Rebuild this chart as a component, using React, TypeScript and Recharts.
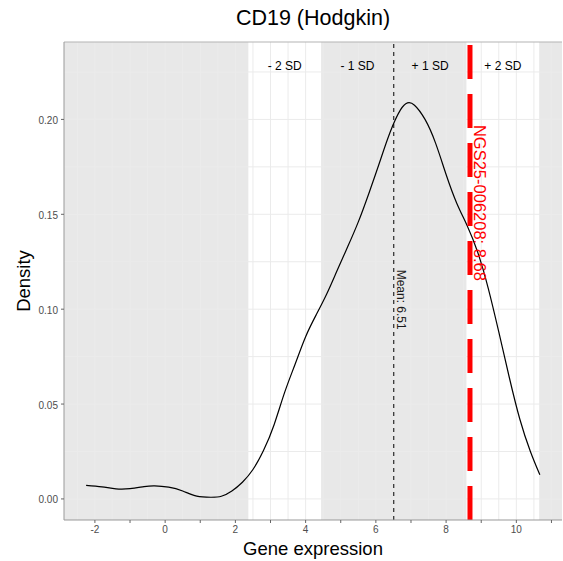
import { ComposedChart, Line, XAxis, YAxis, ReferenceLine, ReferenceArea, ReferenceDot, Label } from 'recharts'

// density estimate
const xValues = [-2.25, -1.8, -1.4, -1.0, -0.6, -0.3, 0.1, 0.5, 0.9, 1.3, 1.6, 1.9, 2.2, 2.5, 2.8, 3.1, 3.4, 3.7, 4.0, 4.3, 4.6, 4.9, 5.2, 5.5, 5.8, 6.1, 6.4, 6.7, 6.9, 7.1, 7.4, 7.7, 8.0, 8.3, 8.6, 8.9, 9.2, 9.5, 9.8, 10.1, 10.4, 10.67]
const density = [0.0072, 0.0064, 0.0053, 0.0054, 0.0065, 0.0069, 0.0062, 0.0042, 0.0015, 0.0009, 0.0014, 0.0042, 0.0088, 0.0155, 0.0255, 0.039, 0.056, 0.071, 0.0855, 0.097, 0.108, 0.1205, 0.133, 0.146, 0.161, 0.177, 0.193, 0.205, 0.2087, 0.2075, 0.2, 0.1875, 0.171, 0.156, 0.144, 0.13, 0.111, 0.088, 0.064, 0.042, 0.025, 0.0127]

const mean = 6.51
const sd = 2.07
const sampleId = 'NGS25-006208'
const sampleValue = 8.68
const sdLabels = ['- 2 SD', '- 1 SD', '+ 1 SD', '+ 2 SD']
const sdSteps = [-2, -1, 0, 1, 2]

const xTicks = [-2, -1, 0, 1, 2, 3, 4, 5, 6, 7, 8, 9, 10, 11]
const yTicks = [0, 0.05, 0.1, 0.15, 0.2]
const xGrid = [-2.5, -2, -1.5, -1, -0.5, 0, 0.5, 1, 1.5, 2, 2.5, 3, 3.5, 4, 4.5, 5, 5.5, 6, 6.5, 7, 7.5, 8, 8.5, 9, 9.5, 10, 10.5, 11]
const yGrid = [0, 0.025, 0.05, 0.075, 0.1, 0.125, 0.15, 0.175, 0.2, 0.225]

const X_DOMAIN: [number, number] = [-2.88, 11.3]
const Y_DOMAIN: [number, number] = [-0.0111, 0.2408]

const data = xValues.map((x, i) => ({ x, density: density[i] }))
const edges = sdSteps.map((k) => mean + k * sd)
const bandMids = sdLabels.map((_, i) => (edges[i] + edges[i + 1]) / 2)

const font = '"Liberation Sans", Arial, sans-serif'

export default function App() {
  return (
    <div style={{ position: 'absolute', left: 0, top: 0, width: 563, height: 561, background: '#fff', fontFamily: font }}>
      <div style={{ position: 'absolute', left: 64, width: 498, top: 6, textAlign: 'center', fontSize: 21.5, color: '#000' }}>
        CD19 (Hodgkin)
      </div>
      <div style={{ position: 'absolute', left: 64, width: 498, top: 538, textAlign: 'center', fontSize: 18.5, color: '#000' }}>
        Gene expression
      </div>
      <div
        style={{
          position: 'absolute', left: 24, top: 281, fontSize: 18.5, color: '#000', whiteSpace: 'nowrap',
          transform: 'translate(-50%, -50%) rotate(-90deg)',
        }}
      >
        Density
      </div>
      <ComposedChart width={563} height={561} data={data} margin={{ top: 42, right: 1, left: 0, bottom: 0 }} style={{ position: 'absolute', left: 0, top: 0 }}>
        <XAxis
          dataKey="x" type="number" domain={X_DOMAIN} allowDataOverflow ticks={xTicks} interval={0}
          tickFormatter={(v: number) => (v % 2 === 0 ? String(v) : '')}
          height={41} tickSize={3} tickMargin={3}
          tick={{ fontSize: 10, fill: '#4d4d4d', fontFamily: font }}
          axisLine={{ stroke: '#999' }} tickLine={{ stroke: '#666' }}
        />
        <YAxis
          type="number" domain={Y_DOMAIN} allowDataOverflow ticks={yTicks} interval={0}
          tickFormatter={(v: number) => v.toFixed(2)}
          width={64} tickSize={3} tickMargin={3}
          tick={{ fontSize: 10, fill: '#4d4d4d', fontFamily: font, dy: 1 }}
          axisLine={{ stroke: '#999' }} tickLine={{ stroke: '#666' }}
        />
        {xGrid.map((v) => (
          <ReferenceLine key={'vx' + v} x={v} stroke="#ebebeb" strokeWidth={1} />
        ))}
        {yGrid.map((v) => (
          <ReferenceLine key={'hy' + v} y={v} stroke="#ebebeb" strokeWidth={1} />
        ))}
        <ReferenceArea x1={X_DOMAIN[0]} x2={edges[0]} y1={Y_DOMAIN[0]} y2={Y_DOMAIN[1]} fill="#000" fillOpacity={0.09} stroke="none" ifOverflow="hidden" />
        <ReferenceArea x1={edges[1]} x2={edges[3]} y1={Y_DOMAIN[0]} y2={Y_DOMAIN[1]} fill="#000" fillOpacity={0.09} stroke="none" />
        <ReferenceArea x1={edges[4]} x2={X_DOMAIN[1]} y1={Y_DOMAIN[0]} y2={Y_DOMAIN[1]} fill="#000" fillOpacity={0.09} stroke="none" ifOverflow="hidden" />
        <ReferenceLine y={Y_DOMAIN[1]} stroke="#b3b3b3" strokeWidth={1} />
        {sdLabels.map((s, i) => (
          <ReferenceDot key={s} x={bandMids[i]} y={0.2283} r={0} fill="none" stroke="none">
            <Label value={s} position="center" fontSize={12} fill="#000" fontFamily={font} />
          </ReferenceDot>
        ))}
        <Line dataKey="density" type="natural" stroke="#000" strokeWidth={1.2} dot={false} isAnimationActive={false} />
        <ReferenceLine x={mean} stroke="#000" strokeWidth={1} strokeDasharray="4 4" />
        <ReferenceDot x={mean + 0.2} y={0.105} r={0} fill="none" stroke="none">
          <Label value={`Mean: ${mean.toFixed(2)}`} position="center" angle={90} fontSize={12} fill="#1a1a1a" fontFamily={font} />
        </ReferenceDot>
        <ReferenceLine x={sampleValue} stroke="#ff0000" strokeWidth={5} strokeDasharray="34 15" />
        <ReferenceDot x={sampleValue + 0.28} y={0.156} r={0} fill="none" stroke="none">
          <Label value={`${sampleId}: ${sampleValue.toFixed(2)}`} position="center" angle={90} fontSize={16.5} fill="#ff0000" fontFamily={font} />
        </ReferenceDot>
      </ComposedChart>
    </div>
  )
}
